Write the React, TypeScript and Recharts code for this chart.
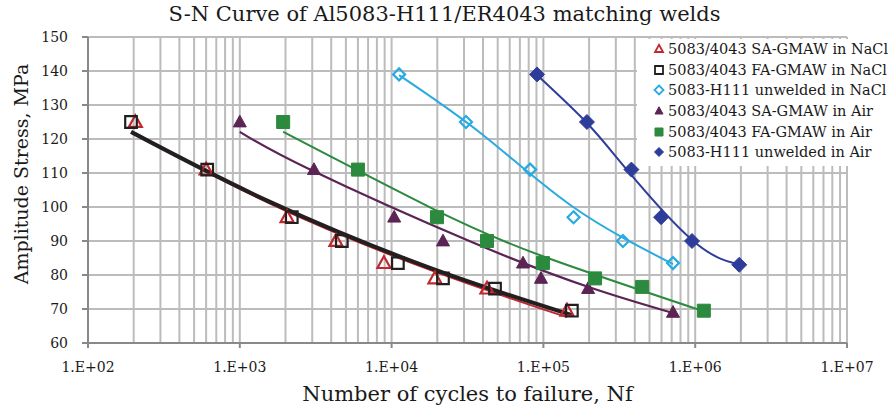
// S-N曲線 (Al5083-H111 / ER4043 溶接材) の再現
import React from 'react';
import {
  ComposedChart, XAxis, YAxis, CartesianGrid, Scatter, Line, Legend,
} from 'recharts';

// 軸の目盛り
const xTicks = [1e2, 1e3, 1e4, 1e5, 1e6, 1e7];
const yTicks = [60, 70, 80, 90, 100, 110, 120, 130, 140, 150];

// 測定点: N = 破断までの繰返し数, S = 応力振幅 [MPa]
const saNaclN = [205, 600, 2050, 4300, 8900, 19300, 42500, 143000];
const saNaclS = [125, 111, 97, 90, 83.5, 79, 76, 69.5];
const faNaclN = [192, 610, 2200, 4700, 11000, 21800, 48000, 154000];
const faNaclS = [125, 111, 97, 90, 83.5, 79, 76, 69.5];
const baseNaclN = [11200, 30900, 81700, 158000, 334000, 714000];
const baseNaclS = [139, 125, 111, 97, 90, 83.5];
const saAirN = [1000, 3080, 10400, 21800, 73400, 96400, 197000, 714000];
const saAirS = [125, 111, 97, 90, 83.5, 79, 76, 69];
const faAirN = [1930, 6000, 19900, 42500, 99300, 219000, 447000, 1140000];
const faAirS = [125, 111, 97, 90, 83.5, 79, 76.5, 69.5];
const baseAirN = [90800, 193600, 380000, 596000, 953000, 1950000];
const baseAirS = [139, 125, 111, 97, 90, 83];

// 近似曲線 (図から読み取った点)
const saNaclFitN = [205, 1580, 17900, 143000];
const saNaclFitS = [121.7, 101.0, 81.5, 67.6];
const faNaclFitN = [192, 1580, 17900, 154000];
const faNaclFitS = [122.1, 101.5, 82.1, 68.2];
const baseNaclFitN = [11200, 40000, 157000, 714000];
const baseNaclFitS = [138.8, 121.2, 100.0, 83.2];
const saAirFitN = [1000, 2900, 32800, 203000, 714000];
const saAirFitS = [122.1, 111.0, 89.9, 76.3, 68.8];
const faAirFitN = [1930, 17900, 95100, 1140000];
const faAirFitS = [122.1, 99.9, 85.8, 69.3];
const baseAirFitN = [90800, 193600, 355600, 953000, 1910000];
const baseAirFitS = [138.8, 124.7, 110.9, 90.3, 83.2];

const FONT = '"DejaVu Serif", serif';
const RED = '#c1272d';
const BLACK = '#231f20';
const LIGHTBLUE = '#29abe2';
const PURPLE = '#5b2455';
const GREEN = '#2b8a3e';
const DARKBLUE = '#2e3d9a';

type Kind = 'triangle' | 'square' | 'diamond';

const toPoints = (n: number[], s: number[]) => n.map((x, i) => ({ x, y: s[i] }));

// 縦のグリッド線 (対数の補助目盛り)
const gridX: number[] = [];
for (let d = 2; d < 7; d++) {
  for (let m = 1; m <= 9; m++) gridX.push(m * Math.pow(10, d));
}
gridX.push(1e7);

const series = [
  { name: '5083/4043 SA-GMAW in NaCl', kind: 'triangle' as Kind, color: RED, filled: false,
    data: toPoints(saNaclN, saNaclS), fit: toPoints(saNaclFitN, saNaclFitS), width: 2 },
  { name: '5083/4043 FA-GMAW in NaCl', kind: 'square' as Kind, color: BLACK, filled: false,
    data: toPoints(faNaclN, faNaclS), fit: toPoints(faNaclFitN, faNaclFitS), width: 4 },
  { name: '5083-H111 unwelded in NaCl', kind: 'diamond' as Kind, color: LIGHTBLUE, filled: false,
    data: toPoints(baseNaclN, baseNaclS), fit: toPoints(baseNaclFitN, baseNaclFitS), width: 2 },
  { name: '5083/4043 SA-GMAW in Air', kind: 'triangle' as Kind, color: PURPLE, filled: true,
    data: toPoints(saAirN, saAirS), fit: toPoints(saAirFitN, saAirFitS), width: 2.2 },
  { name: '5083/4043 FA-GMAW in Air', kind: 'square' as Kind, color: GREEN, filled: true,
    data: toPoints(faAirN, faAirS), fit: toPoints(faAirFitN, faAirFitS), width: 2 },
  { name: '5083-H111 unwelded in Air', kind: 'diamond' as Kind, color: DARKBLUE, filled: true,
    data: toPoints(baseAirN, baseAirS), fit: toPoints(baseAirFitN, baseAirFitS), width: 2 },
];

// マーカー描画
const markerPath = (kind: Kind, cx: number, cy: number, r: number) => {
  if (kind === 'triangle') {
    return `M${cx},${cy - r * 1.05}L${cx + r},${cy + r * 0.75}L${cx - r},${cy + r * 0.75}Z`;
  }
  if (kind === 'square') {
    return `M${cx - r},${cy - r}L${cx + r},${cy - r}L${cx + r},${cy + r}L${cx - r},${cy + r}Z`;
  }
  return `M${cx},${cy - r}L${cx + r},${cy}L${cx},${cy + r}L${cx - r},${cy}Z`;
};

const markerSize = (kind: Kind, filled: boolean) => {
  if (kind === 'triangle') return 6.5;
  if (kind === 'square') return filled ? 6.5 : 5.8;
  return filled ? 7.5 : 6;
};

const makeShape = (kind: Kind, color: string, filled: boolean) => (props: any) => {
  const { cx, cy } = props;
  if (cx == null || cy == null) return <g />;
  return (
    <path
      d={markerPath(kind, cx, cy, markerSize(kind, filled))}
      fill={filled ? color : 'none'}
      stroke={color}
      strokeWidth={filled ? 1 : 2.2}
      strokeLinejoin="miter"
    />
  );
};

const fmtTick = (v: number) => `1.E+${String(Math.round(Math.log10(v))).padStart(2, '0')}`;

// 縦グリッドの座標 (x軸のスケールを使う)
const verticalGrid = ({ xAxis, offset }: any) =>
  gridX.map((v) =>
    xAxis && typeof xAxis.scale === 'function'
      ? Math.round(xAxis.scale(v))
      : offset.left + (offset.width * (Math.log10(v) - 2)) / 5,
  );

const renderLegend = () => (
  <div style={{ background: '#fff', width: 252, height: 127, fontFamily: FONT }}>
    {series.map((s) => (
      <div key={s.name} style={{ height: 20.6, display: 'flex', alignItems: 'center' }}>
        <svg width={14} height={14} style={{ marginLeft: 15, marginRight: 2 }}>
          <path
            d={markerPath(s.kind, 7, 7, s.kind === 'diamond' ? 4.5 : 4)}
            fill={s.filled ? s.color : 'none'}
            stroke={s.color}
            strokeWidth={s.filled ? 1 : 1.8}
          />
        </svg>
        <span style={{ fontSize: 14.5, color: '#1a1a1a', whiteSpace: 'nowrap' }}>{s.name}</span>
      </div>
    ))}
  </div>
);

export default function App() {
  return (
    <div style={{ position: 'absolute', left: 0, top: 0, width: 889, height: 410, background: '#fff', fontFamily: FONT }}>
      <div style={{ position: 'absolute', left: 0, top: 2, width: 889, textAlign: 'center', fontSize: 21, color: '#1a1a1a', zIndex: 2 }}>
        S-N Curve of Al5083-H111/ER4043 matching welds
      </div>
      <ComposedChart width={889} height={410} margin={{ top: 37, right: 42, bottom: 0, left: 0 }}>
        <CartesianGrid stroke="#bcbcbc" strokeWidth={2} verticalCoordinatesGenerator={verticalGrid} />
        <XAxis
          type="number"
          dataKey="x"
          scale="log"
          domain={[1e2, 1e7]}
          ticks={xTicks}
          tickFormatter={fmtTick}
          allowDataOverflow
          height={67}
          tickSize={5}
          tickMargin={14}
          stroke="#898989"
          strokeWidth={2}
          tick={{ fill: '#1a1a1a', fontSize: 14, fontFamily: FONT }}
          label={{ value: 'Number of cycles to failure, Nf', position: 'insideBottom', offset: 9,
            style: { fill: '#1a1a1a', fontSize: 21, fontFamily: FONT } }}
        />
        <YAxis
          type="number"
          dataKey="y"
          domain={[60, 150]}
          ticks={yTicks}
          allowDataOverflow
          width={88}
          tickSize={6}
          tickMargin={14}
          stroke="#898989"
          strokeWidth={2}
          tick={{ fill: '#1a1a1a', fontSize: 14, fontFamily: FONT }}
          label={{
            content: () => (
              <text x={21} y={174} transform="rotate(-90 21 174)" textAnchor="middle"
                dominantBaseline="central" fill="#1a1a1a" fontSize={19} fontFamily={FONT}>
                Amplitude Stress, MPa
              </text>
            ),
          }}
        />
        {/* 近似曲線 */}
        {series.map((s) => (
          <Line
            key={'fit-' + s.name}
            data={s.fit}
            dataKey="y"
            type="natural"
            stroke={s.color}
            strokeWidth={s.width}
            dot={false}
            activeDot={false}
            legendType="none"
            isAnimationActive={false}
          />
        ))}
        {/* 測定点 */}
        {series.map((s) => (
          <Scatter
            key={'pts-' + s.name}
            name={s.name}
            data={s.data}
            fill={s.color}
            shape={makeShape(s.kind, s.color, s.filled)}
            isAnimationActive={false}
          />
        ))}
        <Legend
          layout="vertical"
          align="center"
          verticalAlign="middle"
          content={renderLegend}
          wrapperStyle={{ top: 39, left: 637, width: 252, height: 127 }}
        />
      </ComposedChart>
    </div>
  );
}
